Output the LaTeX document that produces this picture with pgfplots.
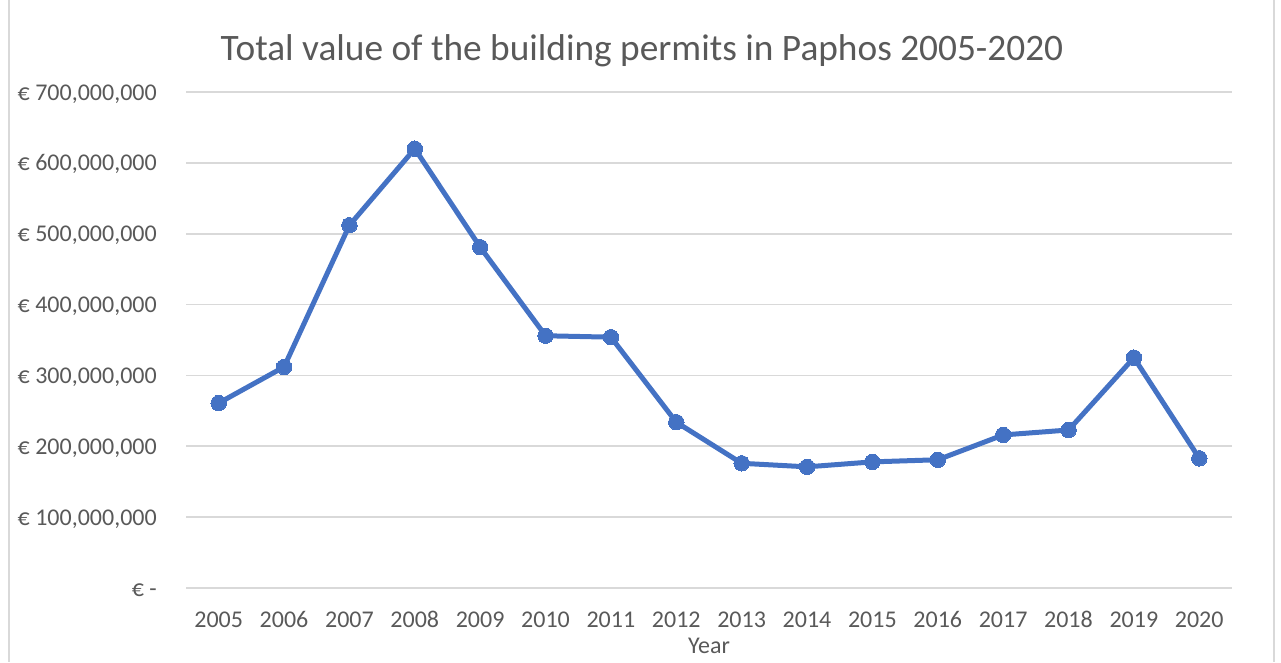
\documentclass[border=0pt]{standalone}
\usepackage{pgfplots}
\pgfplotsset{compat=1.18}
\usepackage{fontspec}
\setmainfont{Carlito}
\definecolor{txt}{HTML}{595959}
\definecolor{gridc}{HTML}{D9D9D9}
\definecolor{linec}{HTML}{4472C4}
\begin{document}
\begin{tikzpicture}
\path[use as bounding box] (0,0) rectangle (960.75pt,-496.5pt);
\draw[gridc, line width=1.2pt] (6.75pt,0) -- (6.75pt,-496.5pt);
\draw[gridc, line width=1.2pt] (955.5pt,0) -- (955.5pt,-496.5pt);
\node[anchor=base, text=txt, font=\fontsize{28}{32}\selectfont, inner sep=0pt] at (481.5pt,-45pt) {Total value of the building permits in Paphos 2005-2020};
\begin{axis}[
  at={(139.5pt,-69pt)}, anchor=north west,
  scale only axis, width=784.5pt, height=372pt,
  xmin=2004.5, xmax=2020.5, ymin=0, ymax=7e8,
  axis line style={draw=none},
  scaled y ticks=false, scaled x ticks=false,
  xtick={2005,...,2020},
  xticklabels={2005,2006,2007,2008,2009,2010,2011,2012,2013,2014,2015,2016,2017,2018,2019,2020},
  ytick={0,1e8,2e8,3e8,4e8,5e8,6e8,7e8},
  yticklabels={{€ -\hspace{8pt}},{€ 100,000,000},{€ 200,000,000},{€ 300,000,000},{€ 400,000,000},{€ 500,000,000},{€ 600,000,000},{€ 700,000,000}},
  major tick length=0pt,
  ymajorgrids, grid style={gridc, line width=1.2pt},
  xticklabel style={anchor=base, yshift=-29.25pt, inner sep=0pt, text=txt, font=\fontsize{18}{22}\selectfont},
  yticklabel style={anchor=base east, xshift=-21.75pt, yshift=-6pt, inner sep=0pt, text=txt, font=\fontsize{18}{22}\selectfont},
  xlabel={Year},
  xlabel style={at={(axis description cs:0.5,0)}, anchor=base, yshift=-49pt, inner sep=0pt, text=txt, font=\fontsize{18}{22}\selectfont},
  clip=false,
]
\addplot[linec, line width=3.75pt, mark=*, mark size=5.8pt, mark options={fill=linec, draw=linec, line width=0pt}] coordinates {
(2005,261e6) (2006,312e6) (2007,512e6) (2008,620e6) (2009,481e6) (2010,356e6) (2011,354e6) (2012,234e6)
(2013,176e6) (2014,171e6) (2015,178e6) (2016,181e6) (2017,216e6) (2018,223e6) (2019,325e6) (2020,183e6)
};
\end{axis}
\end{tikzpicture}
\end{document}
